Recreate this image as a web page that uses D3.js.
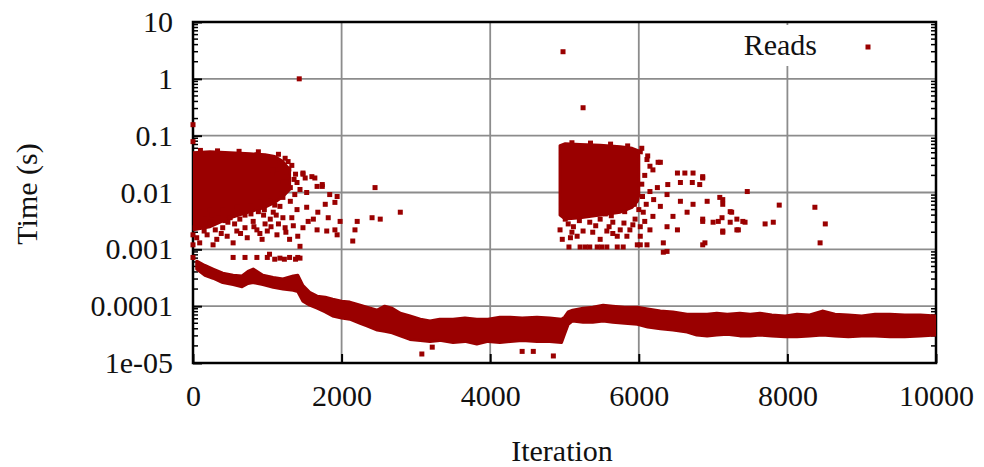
<!DOCTYPE html>
<html>
<head>
<meta charset="utf-8">
<script src="https://cdn.jsdelivr.net/npm/d3@7"></script>
<style>
body { margin: 0; background: #fff; }
text { font-family: "Liberation Serif", "Times New Roman", serif; fill: #111; }
</style>
</head>
<body>
<svg id="chart" width="984" height="467"></svg>
<script>
// axis ticks
var xTicks = [0, 2000, 4000, 6000, 8000, 10000];
var yTicks = [1e-5, 1e-4, 1e-3, 1e-2, 1e-1, 1, 10];
var yTickLabels = ["1e-05", "0.0001", "0.001", "0.01", "0.1", "1", "10"];

// dense lower band of reads (upper / lower edge)
var bandIter = [50, 160, 270, 400, 540, 660, 740, 810, 940, 1080, 1210, 1350, 1410, 1480, 1570, 1670, 1780, 1880, 2000, 2110,
    2250, 2340, 2480, 2580, 2680, 2790, 2920, 3060, 3190, 3320, 3500, 3660, 3820, 3970, 4130, 4270, 4430, 4630, 4800, 4960,
    5000, 5050, 5110, 5250, 5380, 5520, 5650, 5810, 5980, 6120, 6290, 6460, 6650, 6780, 6920, 7050, 7190, 7360, 7500, 7630,
    7790, 7970, 8130, 8300, 8470, 8640, 8820, 9000, 9180, 9380, 9580, 9790, 10000];
var bandHi = [6.2e-4, 5.2e-4, 4.5e-4, 3.8e-4, 3.5e-4, 3.4e-4, 4.1e-4, 4.5e-4, 3.5e-4, 3.2e-4, 3.0e-4, 3.4e-4, 3.5e-4, 2.3e-4, 1.76e-4, 1.5e-4, 1.44e-4, 1.33e-4, 1.22e-4, 1.18e-4,
    1.04e-4, 9.6e-5, 8.5e-5, 1.0e-4, 9.2e-5, 7.5e-5, 6.7e-5, 5.9e-5, 5.5e-5, 5.9e-5, 5.9e-5, 6.2e-5, 5.9e-5, 5.9e-5, 6.4e-5, 6.4e-5, 6.2e-5, 6.4e-5, 6.2e-5, 5.9e-5,
    6.4e-5, 7.9e-5, 8.5e-5, 9.2e-5, 9.6e-5, 1.04e-4, 1.0e-4, 9.6e-5, 9.6e-5, 8.9e-5, 8.2e-5, 7.9e-5, 7.2e-5, 7.2e-5, 7.2e-5, 7.5e-5, 7.2e-5, 7.5e-5, 7.2e-5, 7.5e-5,
    7.0e-5, 6.7e-5, 7.2e-5, 7.0e-5, 8.2e-5, 7.2e-5, 7.0e-5, 6.7e-5, 7.2e-5, 7.2e-5, 7.0e-5, 7.0e-5, 6.7e-5];
var bandLo = [4.5e-4, 3.5e-4, 3.1e-4, 2.6e-4, 2.4e-4, 2.2e-4, 2.5e-4, 2.6e-4, 2.4e-4, 2.15e-4, 2.0e-4, 1.9e-4, 1.8e-4, 1.22e-4, 1.04e-4, 9.2e-5, 7.9e-5, 6.7e-5, 6.2e-5, 5.9e-5,
    5.0e-5, 4.5e-5, 3.8e-5, 3.6e-5, 3.4e-5, 3.0e-5, 2.6e-5, 2.5e-5, 2.4e-5, 2.5e-5, 2.3e-5, 2.4e-5, 2.15e-5, 2.4e-5, 2.3e-5, 2.4e-5, 2.5e-5, 2.4e-5, 2.4e-5, 2.3e-5,
    3.2e-5, 4.8e-5, 5.5e-5, 5.2e-5, 5.2e-5, 5.5e-5, 5.2e-5, 5.0e-5, 4.8e-5, 4.3e-5, 4.0e-5, 3.8e-5, 3.5e-5, 3.1e-5, 3.0e-5, 3.1e-5, 3.2e-5, 3.0e-5, 3.0e-5, 3.1e-5,
    3.0e-5, 2.9e-5, 2.9e-5, 3.0e-5, 3.1e-5, 3.0e-5, 2.9e-5, 3.0e-5, 3.0e-5, 2.9e-5, 2.9e-5, 3.0e-5, 3.1e-5];

// solid cores of the two slow-read clusters
var core1Iter = [0, 230, 500, 770, 970, 1100, 1210, 1300];
var core1Hi = [0.050, 0.052, 0.050, 0.048, 0.046, 0.043, 0.035, 0.025];
var core1Lo = [0.0022, 0.0025, 0.0036, 0.0046, 0.0055, 0.0067, 0.0085, 0.0113];
var core2Iter = [4940, 5010, 5210, 5480, 5750, 5910, 5980, 6000];
var core2Hi = [0.067, 0.072, 0.070, 0.068, 0.064, 0.060, 0.055, 0.045];
var core2Lo = [0.0040, 0.0034, 0.0036, 0.0040, 0.0045, 0.0055, 0.0070, 0.0090];

// individual reads [iteration, seconds]
var readsPoints = [
    [0, 0.156], [0, 0.0785], [1430, 1.0], [4980, 3.0], [5250, 0.31],
    [0, 7.2e-4], [540, 7.2e-4], [700, 7.2e-4], [860, 7.2e-4], [1000, 7.2e-4], [1030, 8.2e-4], [1100, 6.7e-4], [1170, 7.0e-4],
    [1230, 6.7e-4], [1300, 7.2e-4], [1380, 6.7e-4], [1410, 7.2e-4], [1440, 7.0e-4], [1440, 1.13e-3],
    [3080, 1.44e-5], [3220, 1.9e-5], [4430, 1.6e-5], [4580, 1.6e-5], [4850, 1.33e-5],
    [1280, 0.035], [1130, 0.021], [1210, 0.015], [1310, 0.0122], [1400, 0.015], [1480, 0.021], [1600, 0.019], [1670, 0.0128],
    [1740, 0.0128], [1840, 0.0092], [1910, 0.0067], [1940, 0.0085], [1440, 0.0113], [1530, 0.0100], [1310, 0.0070], [1400, 0.0050],
    [1530, 0.0055], [1620, 0.0034], [1550, 0.0031], [1480, 0.0024], [1670, 0.0022], [1800, 0.0021], [1910, 0.0022], [1940, 0.0018],
    [1410, 0.0017], [2210, 0.0031], [2180, 0.0022], [2150, 0.0014], [2450, 0.0122], [2410, 0.0036], [2520, 0.0034], [2790, 0.0045],
    [1480, 0.022], [1510, 0.018], [1640, 0.018], [1740, 0.0138],
    [50, 0.0016], [190, 0.0018], [320, 0.0015], [460, 0.0017], [590, 0.0021], [730, 0.0016], [860, 0.0022], [1000, 0.0021],
    [1130, 0.0018], [630, 0.0034], [810, 0.0031], [1040, 0.0034], [30, 0.0024], [230, 0.0030], [400, 0.0024], [500, 0.0036],
    [880, 0.0046], [1080, 0.0045], [1210, 0.0036], [1170, 0.0057], [1040, 0.0070], [900, 0.0067], [770, 0.0057], [590, 0.0055],
    [400, 0.0050], [230, 0.0050], [90, 0.0046],
    [860, 0.046], [1000, 0.043], [1060, 0.041], [1170, 0.031], [1080, 0.025], [1270, 0.019],
    [0, 0.0012], [0, 0.0018], [90, 0.0013], [270, 0.0012], [540, 0.0013], [930, 0.0015], [1240, 0.0024], [1300, 0.0015],
    [700, 0.0024], [300, 0.0022], [160, 0.0034], [970, 0.0028], [1150, 0.0028], [1330, 0.0036], [1370, 0.0092], [1210, 0.0082],
    [1780, 0.0062], [1680, 0.0045], [1820, 0.0036], [1980, 0.0031],
    [120, 0.0028], [350, 0.0035], [560, 0.0028], [660, 0.0045], [780, 0.0042], [950, 0.0040], [1120, 0.0040], [260, 0.0040],
    [470, 0.0030], [820, 0.0025], [1050, 0.0025], [150, 0.0021], [380, 0.0019], [640, 0.0019], [900, 0.0019], [1250, 0.0020], [1350, 0.0026],
    [100, 0.055], [330, 0.054], [620, 0.053], [880, 0.052], [1150, 0.047], [1240, 0.040], [1330, 0.030], [1360, 0.017],
    [1290, 0.026], [1380, 0.021], [1180, 0.0095], [1100, 0.0060], [960, 0.0050], [700, 0.0040], [430, 0.0032],
    [6020, 0.052], [6110, 0.038], [6260, 0.034], [6190, 0.025], [6520, 0.022], [6620, 0.022], [6730, 0.022], [6860, 0.018],
    [6820, 0.0138], [6720, 0.015], [6560, 0.015], [6390, 0.0138], [6250, 0.0122], [6150, 0.0104], [6380, 0.0092], [6560, 0.0070],
    [6730, 0.0062], [6920, 0.0070], [7090, 0.0082], [7130, 0.0062], [7230, 0.0046], [7320, 0.0034], [7120, 0.0036], [7000, 0.0030],
    [6860, 0.0031], [6650, 0.0045], [6460, 0.0038], [6290, 0.0057], [6190, 0.0038], [6380, 0.0025], [6520, 0.0022], [6150, 0.0022],
    [6020, 0.0025], [6020, 0.0017], [6330, 0.0013], [6380, 0.00092], [6860, 0.0012],
    [5060, 0.0011], [5210, 0.0011], [5280, 0.0011], [5340, 0.0011], [5440, 0.0011], [5500, 0.0011], [5570, 0.0011], [5710, 0.0011],
    [5790, 0.0011], [5980, 0.0012], [6020, 0.0012], [6110, 0.0012],
    [4940, 0.0022], [5010, 0.0034], [5120, 0.0025], [5250, 0.0021], [5380, 0.0020], [5570, 0.0021], [5750, 0.0022], [5880, 0.0022],
    [5170, 0.0017], [5710, 0.0017], [5840, 0.0017], [5340, 0.0030], [5480, 0.0034], [5650, 0.0030], [4970, 0.0015], [5080, 0.0016],
    [5480, 0.0015], [5950, 0.0034], [5810, 0.0046], [5940, 0.0062], [5630, 0.0039],
    [6860, 0.019], [7130, 0.0075], [7250, 0.0045], [7400, 0.0031], [7320, 0.0022], [7130, 0.0021], [6860, 0.0034], [7460, 0.0104],
    [7890, 0.0060], [8370, 0.0055], [8510, 0.0028], [8440, 0.0013], [6890, 0.0013], [6330, 0.00089], [7700, 0.0028], [7810, 0.0030],
    [7430, 0.0030], [7340, 0.0022], [7230, 0.0030], [7130, 0.0020], [7070, 0.0031], [6120, 0.044], [6290, 0.034], [6150, 0.029],
    [5050, 0.0028], [5200, 0.0032], [5420, 0.0026], [5600, 0.0025], [5800, 0.0029], [5920, 0.0027], [5300, 0.0040], [5550, 0.0042],
    [5100, 0.0020], [5650, 0.0019], [6080, 0.0031], [6060, 0.0045], [6100, 0.0062], [6200, 0.0075], [6050, 0.0085],
    [5100, 0.075], [5350, 0.074], [5620, 0.071], [5850, 0.066], [6040, 0.060], [6080, 0.020], [6040, 0.014], [6000, 0.0050]
];

var red = "#9a0000";
var plotLeft = 193, plotTop = 22, plotW = 743, plotH = 341;

var svg = d3.select("#chart");

var x = d3.scaleLinear().domain([0, 10000]).range([plotLeft, plotLeft + plotW]);
var y = d3.scaleLog().domain([1e-5, 10]).range([plotTop + plotH, plotTop]);

svg.append("defs").append("clipPath").attr("id", "plot")
    .append("rect").attr("x", plotLeft).attr("y", plotTop).attr("width", plotW).attr("height", plotH);

// grid
svg.append("g").selectAll("line")
    .data(yTicks.slice(1, -1))
    .enter().append("line")
    .attr("x1", plotLeft).attr("x2", plotLeft + plotW)
    .attr("y1", function (d) { return y(d); }).attr("y2", function (d) { return y(d); })
    .attr("stroke", "#8c8c8c").attr("stroke-width", 1.8);

svg.append("g").selectAll("line")
    .data(xTicks.slice(1, -1))
    .enter().append("line")
    .attr("x1", function (d) { return x(d); }).attr("x2", function (d) { return x(d); })
    .attr("y1", plotTop).attr("y2", plotTop + plotH)
    .attr("stroke", "#8c8c8c").attr("stroke-width", 1.8);

// legend box covers the grid
svg.append("rect").attr("x", 700).attr("y", 25).attr("width", 232).attr("height", 41).attr("fill", "#fff");

// axes with inward ticks
var yAxis = svg.append("g")
    .attr("transform", "translate(" + plotLeft + ",0)")
    .call(d3.axisLeft(y).tickValues(yTicks).tickSize(-9).tickPadding(20)
        .tickFormat(function (d, i) { return yTickLabels[i]; }));
var xAxis = svg.append("g")
    .attr("transform", "translate(0," + (plotTop + plotH) + ")")
    .call(d3.axisBottom(x).tickValues(xTicks).tickSize(-9).tickPadding(22).tickFormat(d3.format("d")));

[yAxis, xAxis].forEach(function (a) {
    a.select(".domain").remove();
    a.selectAll("line").attr("stroke", "#000").attr("stroke-width", 2);
    a.selectAll("text").style("font-size", "30px").attr("fill", "#111")
        .style("font-family", "'Liberation Serif', serif");
});

// minor log ticks on left and right
var minor = y.ticks().filter(function (d) { return yTicks.indexOf(d) < 0; });
svg.append("g").selectAll("line")
    .data(minor)
    .enter().append("line")
    .attr("x1", plotLeft).attr("x2", plotLeft + 5)
    .attr("y1", function (d) { return y(d); }).attr("y2", function (d) { return y(d); })
    .attr("stroke", "#000").attr("stroke-width", 1.5);
svg.append("g").selectAll("line")
    .data(minor)
    .enter().append("line")
    .attr("x1", plotLeft + plotW).attr("x2", plotLeft + plotW - 5)
    .attr("y1", function (d) { return y(d); }).attr("y2", function (d) { return y(d); })
    .attr("stroke", "#000").attr("stroke-width", 1.5);

// border
svg.append("rect").attr("x", plotLeft).attr("y", plotTop).attr("width", plotW).attr("height", plotH)
    .attr("fill", "none").attr("stroke", "#000").attr("stroke-width", 2.5);

// dense areas
function drawCore(iters, hi, lo, edge) {
    var rows = iters.map(function (d, i) { return { it: d, hi: hi[i], lo: lo[i] }; });
    var area = d3.area()
        .x(function (d) { return x(d.it); })
        .y0(function (d) { return y(d.lo); })
        .y1(function (d) { return y(d.hi); });
    svg.append("path")
        .datum(rows)
        .attr("clip-path", "url(#plot)")
        .attr("d", area)
        .attr("fill", red)
        .attr("stroke", red)
        .attr("stroke-width", edge)
        .attr("stroke-linejoin", "round");
}
drawCore(bandIter, bandHi, bandLo, 3);
drawCore(core1Iter, core1Hi, core1Lo, 3);
drawCore(core2Iter, core2Hi, core2Lo, 3);

// points
svg.append("g").selectAll("rect")
    .data(readsPoints)
    .enter().append("rect")
    .attr("x", function (d) { return x(d[0]) - 2.5; })
    .attr("y", function (d) { return y(d[1]) - 2.5; })
    .attr("width", 5).attr("height", 5)
    .attr("fill", red);

// legend
svg.append("text").attr("x", 817).attr("y", 55).attr("text-anchor", "end")
    .style("font-size", "30px").text("Reads");
svg.append("rect").attr("x", 865.5).attr("y", 44.5).attr("width", 5).attr("height", 5).attr("fill", red);

// axis titles
svg.append("text").attr("x", 562).attr("y", 461).attr("text-anchor", "middle")
    .style("font-size", "30px").text("Iteration");
svg.append("text").attr("transform", "translate(37,194) rotate(-90)").attr("text-anchor", "middle")
    .style("font-size", "30px").text("Time (s)");
</script>
</body>
</html>
